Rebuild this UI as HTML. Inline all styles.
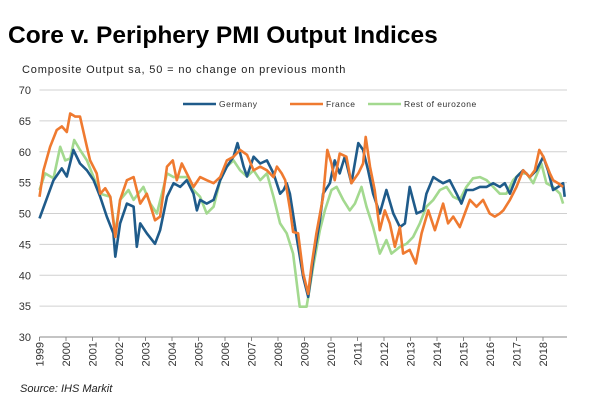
<!DOCTYPE html>
<html><head><meta charset="utf-8"><style>
body{margin:0;background:#fff;width:600px;height:411px;overflow:hidden;font-family:"Liberation Sans",sans-serif}
</style></head><body>
<svg width="600" height="411" id="c">
<text x="8" y="43" font-size="24.5" font-weight="bold" fill="#000">Core v. Periphery PMI Output Indices</text>
<text x="22" y="73" font-size="11" letter-spacing="0.85" fill="#222">Composite Output sa, 50 = no change on previous month</text>
<text x="20" y="392" font-size="11" font-style="italic" fill="#222">Source: IHS Markit</text>
<g id="grid"></g><g id="lines"></g><g id="legend"></g>
</svg>
<script>
const yTicks=[30,35,40,45,50,55,60,65,70];
const xTickYears=[1999,2000,2001,2002,2003,2004,2005,2006,2007,2008,2009,2010,2011,2012,2013,2014,2015,2016,2017,2018];
const germanyT=[1999.00,1999.53,1999.84,2000.03,2000.28,2000.53,2000.79,2001.04,2001.29,2001.54,2001.79,2001.86,2002.04,2002.30,2002.55,2002.67,2002.80,2003.05,2003.36,2003.55,2003.81,2004.06,2004.31,2004.56,2004.81,2004.94,2005.06,2005.31,2005.57,2005.82,2006.07,2006.32,2006.47,2006.70,2006.83,2007.08,2007.33,2007.58,2007.83,2008.08,2008.21,2008.33,2008.45,2008.70,2008.95,2009.14,2009.33,2009.58,2009.70,2009.96,2010.14,2010.33,2010.52,2010.77,2011.03,2011.21,2011.40,2011.59,2011.84,2012.09,2012.35,2012.60,2012.79,2012.97,2013.23,2013.48,2013.60,2013.86,2014.04,2014.23,2014.48,2014.74,2014.92,2015.11,2015.36,2015.62,2015.87,2016.12,2016.37,2016.56,2016.75,2017.00,2017.25,2017.50,2017.75,2018.01,2018.19,2018.38,2018.57,2018.76,2018.82];
const germanyV=[49.2,55.4,57.3,56,60.3,58.1,57,55.4,52.7,49.5,46.8,43,48.4,51.6,51.1,44.6,48.4,46.8,45.1,47.3,52.7,54.9,54.3,55.4,53.2,50.5,52.2,51.6,52.2,55.4,57.6,59.2,61.4,57.6,56,59.2,58.1,58.6,56.5,53.2,53.8,54.9,53.2,46.2,39.7,36.5,42.4,48.9,53.2,54.9,58.6,56.5,59.2,54.9,61.4,60.3,57,53.2,50,53.8,50,47.8,48.4,54.3,50,50.5,53.2,55.9,55.4,54.9,55.4,53.2,51.6,53.8,53.8,54.3,54.3,54.9,54.3,54.9,53.2,55.9,57,55.9,57,59.2,57,53.8,54.3,54.9,52.7];
const franceT=[1999.00,1999.15,1999.40,1999.65,1999.84,2000.03,2000.16,2000.35,2000.53,2000.79,2000.91,2001.16,2001.29,2001.48,2001.67,2001.86,2002.04,2002.30,2002.55,2002.80,2003.05,2003.36,2003.55,2003.81,2004.03,2004.18,2004.37,2004.56,2004.81,2005.06,2005.31,2005.57,2005.82,2006.07,2006.32,2006.57,2006.83,2007.08,2007.33,2007.58,2007.83,2007.96,2008.14,2008.27,2008.46,2008.57,2008.76,2008.95,2009.14,2009.26,2009.45,2009.70,2009.86,2010.02,2010.14,2010.33,2010.58,2010.77,2011.03,2011.21,2011.31,2011.47,2011.65,2011.84,2012.03,2012.22,2012.41,2012.60,2012.72,2012.97,2013.20,2013.42,2013.67,2013.92,2014.23,2014.42,2014.61,2014.86,2015.05,2015.24,2015.49,2015.74,2015.99,2016.18,2016.37,2016.50,2016.75,2017.00,2017.25,2017.50,2017.69,2017.86,2018.01,2018.26,2018.38,2018.57,2018.76];
const franceV=[52.7,57,60.8,63.5,64.1,63.2,66.2,65.7,65.7,60.8,58.6,56.5,53.2,54.1,52.7,46.2,52.2,55.4,55.9,51.6,53.2,48.9,49.5,57.6,58.6,55.4,58.1,56.5,54.3,55.9,55.4,54.9,55.9,58.6,59.2,60.3,59.5,57,57.6,57,55.9,57.6,56.5,55.4,50.5,47,46.8,40.3,37,41.4,46.8,52.7,60.3,58.1,55.4,59.7,59.2,54.9,56.5,58.1,62.4,57.6,53.8,47.3,50.5,48.4,44.6,47.8,43.5,44.1,41.9,46.8,50.5,47.3,51.6,48.4,49.5,47.8,50,52.2,51.1,52.2,50,49.5,50,50.5,52.2,54.3,57,55.9,57,60.3,59.2,56.5,55.4,54.9,54.3];
const restT=[1999.00,1999.21,1999.53,1999.78,1999.97,2000.16,2000.31,2000.53,2000.79,2001.04,2001.29,2001.67,2001.86,2002.04,2002.36,2002.55,2002.92,2003.18,2003.43,2003.81,2004.06,2004.31,2004.56,2004.81,2005.06,2005.31,2005.57,2005.82,2006.07,2006.32,2006.57,2006.83,2007.08,2007.33,2007.58,2007.83,2008.08,2008.33,2008.57,2008.82,2009.08,2009.33,2009.58,2009.77,2010.02,2010.21,2010.46,2010.71,2010.90,2011.15,2011.34,2011.59,2011.84,2012.09,2012.28,2012.60,2012.85,2013.10,2013.35,2013.60,2013.86,2014.11,2014.36,2014.61,2014.86,2015.11,2015.36,2015.62,2015.87,2016.12,2016.37,2016.62,2016.87,2017.13,2017.38,2017.63,2017.94,2018.13,2018.38,2018.64,2018.76];
const restV=[53.8,56.5,55.7,60.8,58.6,58.9,61.9,60.3,58.6,55.9,53.2,52.7,46.8,52.2,53.8,52.2,54.3,51.6,50,56.5,55.9,55.9,55.9,53.8,52.7,50,51.1,55.4,57.6,58.6,57,56,57,55.4,56.5,52.7,48.4,46.8,43.5,34.9,34.9,41.4,47.3,50.5,53.8,54.3,52.2,50.5,51.6,54.3,51.1,47.8,43.5,45.7,43.5,44.6,45.1,46.2,48.4,51.1,52.2,53.8,54.3,52.7,52.2,54.3,55.7,55.9,55.4,54.3,53.2,53.2,55.4,56.5,56.5,54.9,58.1,54.9,54.3,53.2,51.6];
const X0=39.5,PX=26.5,Y0=337,PY=6.175,XR=567;
const xs=t=>X0+(t-1999)*PX, ys=v=>Y0-(v-30)*PY;
const NS='http://www.w3.org/2000/svg';
function mk(tag,attrs,parent){const e=document.createElementNS(NS,tag);for(const k in attrs)e.setAttribute(k,attrs[k]);parent.appendChild(e);return e;}
const grid=document.getElementById('grid'),lines=document.getElementById('lines'),leg=document.getElementById('legend');
yTicks.forEach(v=>{
  const l=mk('line',{x1:X0,x2:XR,y1:ys(v),y2:ys(v),stroke:v===30?'#888':'#d0d0d0','stroke-width':1},grid);
  
  
  const t=mk('text',{x:31,y:ys(v)+4,'text-anchor':'end','font-size':11,fill:'#333'},grid);
  t.textContent=v;
  
  
});
xTickYears.forEach(y=>{
  const x=xs(y);
  const tk=mk('line',{x1:x,x2:x,y1:Y0,y2:Y0+4,stroke:'#888'},grid);
  
  
  const t=mk('text',{transform:`translate(${x+4},${Y0+5}) rotate(-90)`,'text-anchor':'end','font-size':11,fill:'#333'},grid);
  t.textContent=y;
  
  
});
function series(T,V,color,name){
  const p=mk('polyline',{points:T.map((t,i)=>xs(t).toFixed(1)+','+ys(V[i]).toFixed(1)).join(' '),fill:'none',stroke:color,'stroke-width':2.6,'stroke-linejoin':'round'},lines);
  
  
}
series(restT,restV,'#a3d98f','rest-of-eurozone');
series(germanyT,germanyV,'#1f5b8a','germany');
series(franceT,franceV,'#ef7a30','france');
[['Germany','#1f5b8a',183,'germany'],['France','#ef7a30',290,'france'],['Rest of eurozone','#a3d98f',368,'rest-of-eurozone']].forEach(([lab,c,x,n])=>{
  const g=mk('g',{},leg);
  
  
  mk('line',{x1:x,x2:x+33,y1:104,y2:104,stroke:c,'stroke-width':2.6},g);
  const t=mk('text',{x:x+36,y:107,'font-size':8.5,fill:'#333','letter-spacing':'0.5'},g);
  t.textContent=lab;
});
</script>
</body></html>
